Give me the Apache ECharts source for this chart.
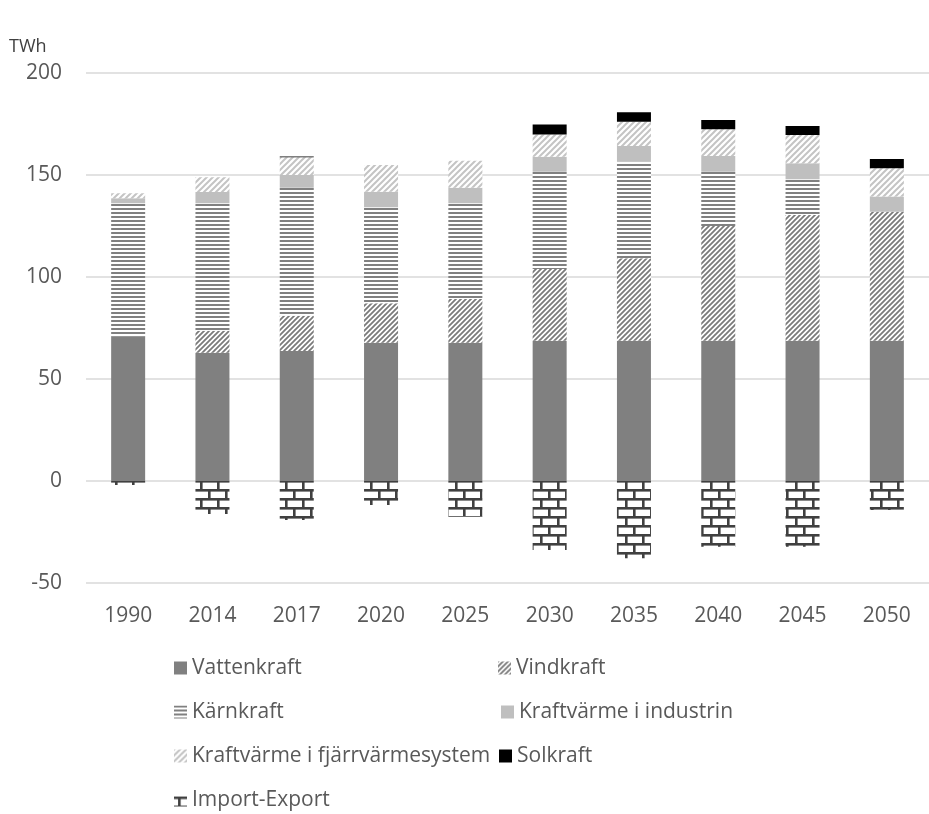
<!DOCTYPE html>
<html>
<head>
<meta charset="utf-8">
<title>Elproduktion i Sverige</title>
<script src="https://cdn.jsdelivr.net/npm/echarts@6/dist/echarts.min.js"></script>
<style>
  html, body { margin: 0; padding: 0; background: #ffffff; }
  #chart { width: 929px; height: 814px; }
</style>
</head>
<body>
<div id="chart"></div>
<script>
// Years on the horizontal axis
const years = ['1990', '2014', '2017', '2020', '2025', '2030', '2035', '2040', '2045', '2050'];

// Electricity production per source, TWh
const vattenkraft = [70.7, 62.9, 63.7, 67.8, 67.8, 68.8, 68.8, 68.8, 68.8, 68.8];
const vindkraft   = [0, 10.8, 17.3, 19.3, 21.4, 35.1, 40.4, 56.2, 61.6, 63.2];
const karnkraft   = [65.4, 62.4, 62.8, 47.1, 46.9, 47.7, 47.3, 26.6, 17.5, 0];
const industri    = [2.5, 5.6, 6.2, 7.6, 7.7, 7.4, 7.7, 7.7, 7.8, 7.4];
const fjarrvarme  = [2.4, 7.2, 8.7, 13.1, 13.2, 10.9, 11.9, 13.1, 13.9, 13.9];
const solkraft    = [0, 0, 0.4, 0, 0, 4.8, 4.6, 4.6, 4.4, 4.5];
const importExport = [-2, -16.2, -19.1, -11.8, -17.5, -33.8, -37.9, -32.2, -32.2, -14.2];

const seriesNames = [
  'Vattenkraft', 'Vindkraft', 'Kärnkraft', 'Kraftvärme i industrin',
  'Kraftvärme i fjärrvärmesystem', 'Solkraft', 'Import-Export'
];

// Y axis range and step
const yMin = -50, yMax = 200, yStep = 50;

const FONT = '"Open Sans", "Noto Sans", sans-serif';
const TEXT_COLOR = '#595959';
const FONT_SIZE = 21;

// ---- fill patterns -------------------------------------------------------
function tile(w, h, draw) {
  const c = document.createElement('canvas');
  c.width = w; c.height = h;
  const ctx = c.getContext('2d');
  ctx.fillStyle = '#ffffff';
  ctx.fillRect(0, 0, w, h);
  draw(ctx, w, h);
  return { image: c, repeat: 'repeat' };
}

// forward diagonal stripes "////"
function diagonal(size, width, color) {
  return tile(size, size, (ctx, s) => {
    ctx.strokeStyle = color;
    ctx.lineWidth = width;
    ctx.lineCap = 'square';
    for (let k = -1; k <= 1; k++) {
      ctx.beginPath();
      ctx.moveTo(k * s, s);
      ctx.lineTo(k * s + s, 0);
      ctx.stroke();
    }
  });
}

// horizontal rules
function horizontal(period, thick, color) {
  return tile(8, period, (ctx, w) => {
    ctx.fillStyle = color;
    ctx.fillRect(0, 0, w, thick);
  });
}

// brick wall
function bricks(w, h, t, color) {
  return tile(w, h * 2, (ctx) => {
    ctx.fillStyle = color;
    const y0 = 3;
    ctx.fillRect(0, y0, w, t);
    ctx.fillRect(0, y0 + h, w, t);
    ctx.fillRect(Math.round(w / 4), y0, t, h);
    ctx.fillRect(Math.round(w * 3 / 4), y0 + h, t, h - y0);
    ctx.fillRect(Math.round(w * 3 / 4), 0, t, y0);
  });
}

const fills = {
  'Vattenkraft': '#808080',
  'Vindkraft': diagonal(5, 1.8, '#7a7a7a'),
  'Kärnkraft': horizontal(4, 2, '#808080'),
  'Kraftvärme i industrin': '#bfbfbf',
  'Kraftvärme i fjärrvärmesystem': diagonal(6, 2, '#c4c4c4'),
  'Solkraft': '#000000',
  'Import-Export': bricks(17, 9, 2.6, '#404040')
};

const values = [vattenkraft, vindkraft, karnkraft, industri, fjarrvarme, solkraft, importExport];

const series = seriesNames.map((name, i) => ({
  name: name,
  type: 'bar',
  stack: 'total',
  barWidth: 34,
  data: values[i],
  itemStyle: { color: fills[name] },
  emphasis: { disabled: true },
  animation: false
}));

// Legend: two columns, one legend box per entry
const legendSlots = [
  ['Vattenkraft', 174, 668],
  ['Vindkraft', 498, 668],
  ['Kärnkraft', 174, 712],
  ['Kraftvärme i industrin', 501, 712],
  ['Kraftvärme i fjärrvärmesystem', 174, 756],
  ['Solkraft', 499, 756],
  ['Import-Export', 174, 800]
];
const LEGEND_LINE = 24;
const legends = legendSlots.map(([name, x, y]) => ({
  orient: 'horizontal',
  left: x,
  top: y - LEGEND_LINE / 2,
  padding: 0,
  icon: 'rect',
  itemWidth: 13,
  itemHeight: 13,
  selectedMode: false,
  textStyle: { color: TEXT_COLOR, fontFamily: FONT, fontSize: FONT_SIZE, lineHeight: LEGEND_LINE },
  data: [name]
}));

const chart = echarts.init(document.getElementById('chart'), null, { renderer: 'canvas' });
chart.setOption({
  backgroundColor: '#ffffff',
  animation: false,
  grid: { left: 86, top: 73, width: 855, height: 510, containLabel: false },
  graphic: [{
    type: 'text',
    left: 9,
    top: 38,
    style: { text: 'TWh', fill: '#404040', font: '18px ' + FONT }
  }],
  legend: legends,
  xAxis: {
    type: 'category',
    data: years,
    axisLine: { show: false, onZero: false },
    axisTick: { show: false },
    axisLabel: { color: TEXT_COLOR, fontFamily: FONT, fontSize: FONT_SIZE, margin: 23 },
    splitLine: { show: false }
  },
  yAxis: {
    type: 'value',
    min: yMin,
    max: yMax,
    interval: yStep,
    axisLine: { show: false },
    axisTick: { show: false },
    axisLabel: { color: TEXT_COLOR, fontFamily: FONT, fontSize: FONT_SIZE, margin: 24 },
    splitLine: { lineStyle: { color: '#d9d9d9', width: 1.5 } }
  },
  series: series
});
</script>
</body>
</html>
